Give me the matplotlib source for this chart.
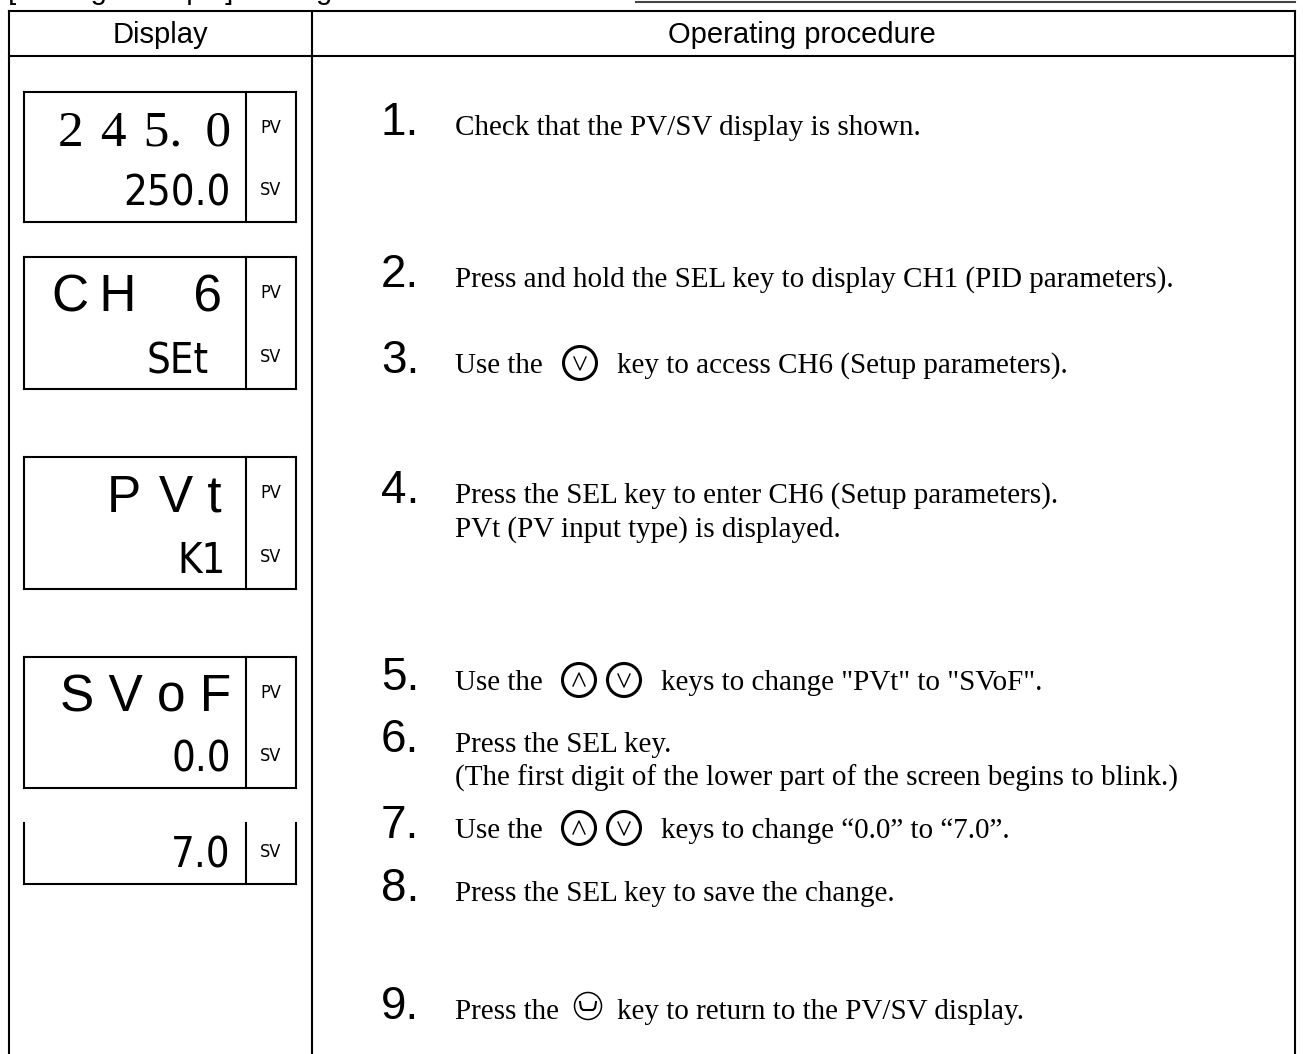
import matplotlib
matplotlib.use("Agg")
import matplotlib.pyplot as plt
from matplotlib.patches import Circle

# header row
title_text = "[Setting example] Setting"
headers = ["Display", "Operating procedure"]

# display panels: upper text, lower text
upper_texts = ["2 \u200a4 \u200a5. \u20090", "C\u2009H    6", "P \u200aV t", "S V o F"]
upper_rights = [231, 222, 222, 231]
lower_texts = ["250.0", "SEt", "K1", "0.0", "7.0"]
lower_rights = [231, 209, 226, 231, 231]
box_tops = [92, 257, 457, 657, 823]
box_bottoms = [222, 389, 589, 788, 884]

# procedure steps
step_numbers = ["1.", "2.", "3.", "4.", "5.", "6.", "7.", "8.", "9."]
step_rows = [135, 287, 373, 503, 690, 752, 838, 901, 1019]
step_lines = [
    [("Check that the PV/SV display is shown.", 455)],
    [("Press and hold the SEL key to display CH1 (PID parameters).", 455)],
    [("Use the", 455), ("key to access CH6 (Setup parameters).", 617)],
    [("Press the SEL key to enter CH6 (Setup parameters).", 455)],
    [("Use the", 455), ('keys to change "PVt" to "SVoF".', 661)],
    [("Press the SEL key.", 455)],
    [("Use the", 455), ("keys to change \u201c0.0\u201d to \u201c7.0\u201d.", 661)],
    [("Press the SEL key to save the change.", 455)],
    [("Press the", 455), ("key to return to the PV/SV display.", 617)],
]
extra_lines = [("PVt (PV input type) is displayed.", 455, 537),
               ("(The first digit of the lower part of the screen begins to blink.)", 455, 786)]

fig = plt.figure(figsize=(13.03, 10.54), dpi=100)
ax = fig.add_axes([0, 0, 1, 1])
ax.set_xlim(0, 1303)
ax.set_ylim(1054, 0)
ax.axis("off")

LW = 1.5
ax.plot([9, 1295], [11, 11], color="k", lw=LW)
ax.plot([9, 1295], [56, 56], color="k", lw=LW)
for x in [9, 312, 1295]:
    ax.plot([x, x], [11, 1054], color="k", lw=LW)
ax.plot([636, 1295], [2, 2], color="#444444", lw=1.5)

# title is cut off by the page edge in the original
ax.text(8, -1, title_text, family="Liberation Sans", fontsize=21, ha="left", va="baseline", clip_on=False)

ax.text(160, 35, headers[0], family="Liberation Sans", fontsize=21, ha="center", va="center")
ax.text(802, 35, headers[1], family="Liberation Sans", fontsize=21, ha="center", va="center")

# display boxes
for i, (top, bot) in enumerate(zip(box_tops, box_bottoms)):
    ax.plot([24, 24], [top, bot], color="k", lw=LW)
    ax.plot([296, 296], [top, bot], color="k", lw=LW)
    ax.plot([246, 246], [top, bot], color="k", lw=LW)
    ax.plot([24, 296], [bot, bot], color="k", lw=LW)
    if i < 4:
        ax.plot([24, 296], [top, top], color="k", lw=LW)
        ax.text(271, top + 36, "PV", family="DejaVu Sans", stretch="condensed", fontsize=13, ha="center", va="center")
        fam = "Liberation Serif" if i == 0 else "Liberation Sans"
        ax.text(upper_rights[i], top + 54, upper_texts[i], family=fam, fontsize=37, ha="right", va="baseline")
    ax.text(271, bot - 32, "SV", family="DejaVu Sans", stretch="condensed", fontsize=13, ha="center", va="center")
    ax.text(lower_rights[i], bot - 16, lower_texts[i], family="DejaVu Sans", stretch="condensed",
            fontsize=30, ha="right", va="baseline")

# steps
for num, y, parts in zip(step_numbers, step_rows, step_lines):
    ax.text(381, y, num, family="Liberation Sans", fontsize=33, ha="left", va="baseline")
    for txt, x in parts:
        ax.text(x, y, txt, family="Liberation Serif", fontsize=21, ha="left", va="baseline")
for txt, x, y in extra_lines:
    ax.text(x, y, txt, family="Liberation Serif", fontsize=21, ha="left", va="baseline")


def key(cx, cy, up):
    ax.add_patch(Circle((cx, cy), 16.5, fill=False, ec="k", lw=2.2))
    s = -1 if up else 1
    ax.plot([cx - 6, cx, cx + 6], [cy - s * 6, cy + s * 7, cy - s * 6], color="k", lw=1)


key(580, 363, False)
for row in [680, 828]:
    key(579, row, True)
    key(624, row, False)

# return key
ax.add_patch(Circle((588, 1006), 13.5, fill=False, ec="k", lw=1.1))
ax.plot([580, 581, 583, 593, 595, 596], [1002, 1008, 1010, 1010, 1008, 1002], color="k", lw=1.5)

fig.savefig("out.png", dpi=100)
